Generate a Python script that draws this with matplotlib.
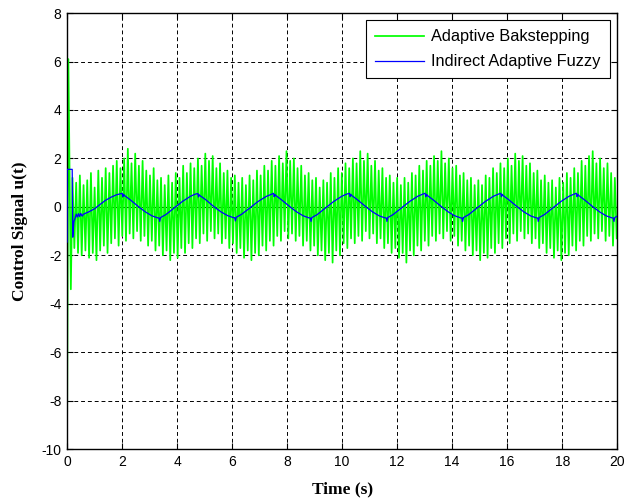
import numpy as np
import matplotlib
matplotlib.use("Agg")
import matplotlib.pyplot as plt

plt.rcParams['axes.unicode_minus'] = False

# ---- Adaptive Backstepping (green): start transient + alternating peaks/troughs
green_start_t = [0.0, 0.05, 0.14]
green_start_v = [-10.5, 6.1, -3.4]
green_peaks = [1.2,1.0,1.3,0.9,1.1,1.4,0.8,1.5,1.2,1.6,1.4,1.7,1.9,1.6,2.0,2.4,1.8,2.2,1.7,1.9,1.5,
               1.3,1.6,1.1,1.2,0.9,1.3,1.0,1.4,1.2,1.7,1.4,1.8,1.6,2.0,1.7,2.2,1.9,2.1,1.6,1.8,1.4,
               1.5,1.2,1.3,1.0,1.2,0.9,1.3,1.1,1.5,1.3,1.7,1.5,1.9,1.7,2.1,1.8,2.3,1.9,2.0,1.6,1.7,
               1.3,1.4,1.1,1.2,0.8,1.1,1.0,1.4,1.2,1.6,1.4,1.8,1.6,2.0,1.8,2.3,1.9,2.2,1.7,1.9,1.5,
               1.6,1.2,1.3,1.0,1.2,0.9,1.2,1.0,1.4,1.3,1.7,1.5,1.9,1.7,2.1,1.9,2.3,1.8,2.0,1.6,1.7,
               1.3,1.4,1.1,1.2,0.9,1.1,0.9,1.3,1.2,1.6,1.4,1.8,1.6,2.0,1.7,2.2,1.9,2.1,1.7,1.8,1.4,
               1.5,1.1,1.3,1.0,1.1,0.8,1.2,1.0,1.4,1.2,1.6,1.4,1.9,1.7,2.1,2.3,1.8,2.0,1.6,1.8,1.4,
               1.2]
green_troughs = [-1.7,-1.9,-2.0,-1.8,-2.1,-1.9,-2.2,-1.8,-1.6,-1.9,-1.5,-1.3,-1.6,-1.2,-1.4,-1.1,-1.3,-1.0,-1.4,-1.2,-1.6,
                 -1.4,-1.8,-1.6,-2.0,-1.8,-2.2,-1.9,-2.1,-1.7,-1.9,-1.5,-1.7,-1.3,-1.5,-1.1,-1.4,-1.0,-1.3,-1.1,-1.5,-1.3,
                 -1.7,-1.5,-1.9,-1.7,-2.1,-1.8,-2.2,-1.9,-2.0,-1.6,-1.8,-1.4,-1.6,-1.2,-1.4,-1.0,-1.3,-1.1,-1.4,-1.2,-1.6,
                 -1.4,-1.8,-1.6,-2.0,-1.8,-2.2,-1.9,-2.3,-1.8,-2.0,-1.5,-1.7,-1.3,-1.5,-1.2,-1.4,-1.0,-1.3,-1.1,-1.5,-1.3,
                 -1.7,-1.5,-1.9,-1.7,-2.1,-1.9,-2.3,-1.8,-2.0,-1.6,-1.8,-1.4,-1.6,-1.2,-1.4,-1.1,-1.3,-1.0,-1.4,-1.2,-1.6,
                 -1.4,-1.8,-1.6,-2.0,-1.8,-2.2,-1.9,-2.1,-1.7,-1.9,-1.5,-1.7,-1.3,-1.5,-1.1,-1.4,-1.0,-1.3,-1.1,-1.5,-1.3,
                 -1.7,-1.5,-1.9,-1.7,-2.1,-1.8,-2.2,-1.9,-2.0,-1.6,-1.8,-1.4,-1.6,-1.2,-1.4,-1.1,-1.3,-1.0,-1.4,-1.2,-1.6,
                 -1.3]

# ---- Indirect Adaptive Fuzzy (blue)
blue_t = [0.0, 0.005, 0.19, 0.21, 0.25, 0.3, 0.34, 0.38, 0.42, 0.46, 0.5, 0.55, 0.6, 0.8, 1.0, 1.2, 1.4, 1.6, 1.8,
          1.97, 2.01, 2.03, 2.06, 2.09, 2.29, 2.59, 2.84, 3.09, 3.29, 3.35, 3.37, 3.40, 3.59, 3.89, 4.19, 4.49, 4.67,
          4.72, 4.76, 4.78, 4.81, 4.84, 5.04, 5.34, 5.59, 5.84, 6.04, 6.10, 6.12, 6.15, 6.34, 6.64, 6.94, 7.24, 7.42,
          7.47, 7.51, 7.53, 7.56, 7.59, 7.79, 8.09, 8.34, 8.59, 8.79, 8.85, 8.87, 8.90, 9.09, 9.39, 9.69, 9.99, 10.17,
          10.23, 10.27, 10.29, 10.32, 10.35, 10.55, 10.85, 11.10, 11.35, 11.55, 11.61, 11.63, 11.66, 11.85, 12.15, 12.45, 12.75, 12.93,
          12.98, 13.02, 13.04, 13.07, 13.10, 13.30, 13.60, 13.85, 14.10, 14.30, 14.36, 14.38, 14.41, 14.60, 14.90, 15.20, 15.50, 15.68,
          15.73, 15.77, 15.79, 15.82, 15.85, 16.05, 16.35, 16.60, 16.85, 17.05, 17.11, 17.13, 17.16, 17.35, 17.65, 17.95, 18.25, 18.43,
          18.48, 18.52, 18.54, 18.57, 18.60, 18.80, 19.10, 19.35, 19.60, 19.80, 19.86, 19.88, 19.91, 20.0]
blue_v = [-1.45, 1.55, 1.55, -1.25, -0.6, -0.45, -0.3, -0.42, -0.28, -0.4, -0.27, -0.38, -0.3, -0.2, -0.08, 0.1, 0.27, 0.4, 0.5,
          0.55, 0.56, 0.42, 0.52, 0.47, 0.3, 0.02, -0.2, -0.37, -0.45, -0.46, -0.6, -0.44, -0.32, -0.05, 0.22, 0.44, 0.53,
          0.54, 0.55, 0.41, 0.5, 0.46, 0.3, 0.01, -0.2, -0.36, -0.44, -0.45, -0.58, -0.43, -0.31, -0.05, 0.22, 0.43, 0.52,
          0.55, 0.56, 0.42, 0.51, 0.47, 0.3, 0.02, -0.2, -0.37, -0.45, -0.46, -0.6, -0.44, -0.32, -0.05, 0.22, 0.44, 0.53,
          0.55, 0.56, 0.42, 0.52, 0.47, 0.3, 0.02, -0.2, -0.37, -0.45, -0.46, -0.6, -0.44, -0.32, -0.05, 0.22, 0.44, 0.53,
          0.55, 0.56, 0.42, 0.52, 0.47, 0.3, 0.02, -0.2, -0.37, -0.45, -0.46, -0.6, -0.44, -0.32, -0.05, 0.22, 0.44, 0.53,
          0.55, 0.56, 0.42, 0.52, 0.47, 0.3, 0.02, -0.2, -0.37, -0.45, -0.46, -0.6, -0.44, -0.32, -0.05, 0.22, 0.44, 0.53,
          0.55, 0.56, 0.42, 0.52, 0.47, 0.3, 0.02, -0.2, -0.37, -0.45, -0.46, -0.6, -0.44, -0.38]

x_ticks = [0, 2, 4, 6, 8, 10, 12, 14, 16, 18, 20]
y_ticks = [-10, -8, -6, -4, -2, 0, 2, 4, 6, 8]

# build green series (interleave typed peaks and troughs on a sampling grid)
g_vals = np.empty(2 * len(green_peaks))
g_vals[0::2] = green_peaks
g_vals[1::2] = green_troughs
g_t = np.concatenate([green_start_t, np.linspace(0.2, 19.98, len(g_vals))])
g_v = np.concatenate([green_start_v, g_vals])

fig = plt.figure(figsize=(6.26, 5.03), dpi=100)
ax = fig.add_axes([0.107, 0.107, 0.879, 0.867])

ax.axhline(0, color='black', lw=0.8, zorder=1)
ax.plot(g_t, g_v, color='#00ff00', lw=1.25, label='Adaptive Bakstepping', zorder=2)
ax.plot(blue_t, blue_v, color='#0000ff', lw=0.9, label='Indirect Adaptive Fuzzy', zorder=3)

ax.set_xlim(0, 20)
ax.set_ylim(-10, 8)
ax.set_xticks(x_ticks)
ax.set_yticks(y_ticks)
ax.set_xticklabels([str(v) for v in x_ticks], family='Liberation Sans', fontsize=10)
ax.set_yticklabels([str(v) for v in y_ticks], family='Liberation Sans', fontsize=10)
ax.tick_params(direction='in', length=4, top=True, right=True, width=0.8, pad=4)
ax.grid(True, color='black', linestyle=(0, (4, 3)), lw=0.7)
for s in ax.spines.values():
    s.set_linewidth(1.0)

ax.set_xlabel('Time (s)', family='Liberation Serif', fontweight='bold', fontsize=12.5, labelpad=9)
ax.set_ylabel('Control Signal u(t)', family='Liberation Serif', fontweight='bold', fontsize=12.5, labelpad=10)

leg = ax.legend(loc='upper right', prop={'family': 'Liberation Sans', 'size': 11.8},
                fancybox=False, edgecolor='black', framealpha=1, handlelength=3.0,
                borderaxespad=0.45, borderpad=0.55, labelspacing=0.6, handletextpad=0.45)
leg.get_frame().set_linewidth(0.8)

fig.savefig('out.png', dpi=100)
